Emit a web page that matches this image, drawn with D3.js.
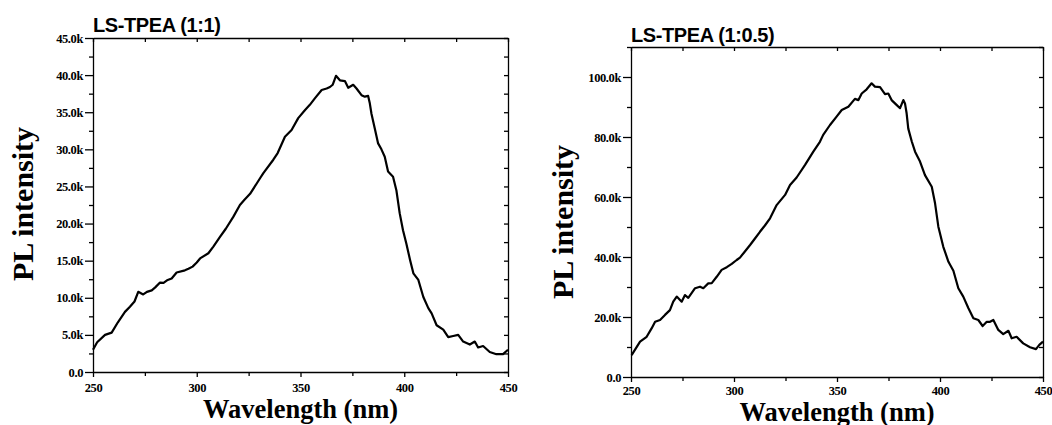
<!DOCTYPE html>
<html lang="en">
<head>
    <meta charset="UTF-8">
    <title>PL spectra LS-TPEA</title>
    <script src="https://d3js.org/d3.v7.min.js"></script>
    <style>
        body { margin: 0; background: #fff; }
        .tick text { font-family: "Liberation Serif", "Times New Roman", serif; font-weight: bold; font-size: 12.5px; letter-spacing: -0.4px; fill: #000; }
        .domain, .tick line { stroke: #000; stroke-width: 1.3px; }
        .line { fill: none; stroke: #000; stroke-width: 2.2px; stroke-linejoin: round; }
        .title { font-family: "Liberation Sans", Arial, sans-serif; font-weight: bold; font-size: 20px; letter-spacing: -0.4px; }
        .axis-label { font-family: "Liberation Serif", "Times New Roman", serif; font-weight: bold; }
    </style>
</head>
<body>
<svg id="chart" width="1052" height="425"></svg>
<script>
// LS-TPEA (1:1)
const wl11 = [250, 252, 255.8, 259, 262, 265.4, 267.8, 270, 271.8, 274.2, 276, 278.3, 280, 282.3, 284, 286, 287.9, 290.3, 294.3, 296, 298, 300, 301.6, 305.6, 308, 311.2, 314, 317.6, 320.8, 323, 325.7, 330.5, 332.1, 336.9, 339, 342.5, 345.7, 348.9, 352.2, 354.5, 357, 360.2, 362.6, 364.2, 365.5, 367.1, 369, 371.4, 373, 375.4, 377, 379.4, 381, 382.6, 383.4, 384.2, 385.8, 387.4, 389, 390.6, 392.2, 394.6, 396.2, 397.8, 399.4, 401, 402.8, 404.4, 406.8, 409.2, 411.6, 413.2, 415.6, 418.8, 421.2, 423.6, 426, 428.4, 431.6, 434, 435.6, 438, 441.2, 444.4, 447.6, 450];
const pl11 = [3000, 4000, 5000, 5300, 6700, 8100, 8800, 9500, 10800, 10450, 10800, 11000, 11400, 12050, 12000, 12400, 12600, 13400, 13700, 13900, 14200, 14750, 15300, 16000, 16900, 18200, 19300, 20900, 22500, 23200, 24000, 26100, 26800, 28600, 29500, 31700, 32600, 34200, 35300, 36000, 36900, 38000, 38200, 38400, 38700, 39900, 39300, 39200, 38300, 38700, 38200, 37300, 37100, 37200, 36200, 34800, 32800, 30800, 30000, 29000, 27000, 26300, 24500, 21400, 19100, 17300, 15100, 13300, 12400, 10100, 8600, 7900, 6300, 5700, 4700, 4850, 5000, 4100, 3700, 4100, 3300, 3500, 2700, 2400, 2400, 3000];

// LS-TPEA (1:0.5)
const wl105 = [250.3, 254.4, 257.6, 260, 261.7, 264.1, 266.5, 268.9, 270.5, 272.2, 274.6, 276.2, 277.8, 281.1, 283.5, 285.1, 287.5, 289.2, 291.6, 294, 296.5, 298.9, 301.3, 302.9, 305, 307.8, 310, 312.6, 315, 317.5, 320.7, 324.8, 327.2, 330.4, 334.5, 338.5, 341.7, 343.3, 346.6, 349.8, 352.3, 355.5, 358.7, 360.4, 362, 364.4, 366.8, 368.4, 370.9, 373.3, 374.9, 376.5, 378.9, 380.6, 382.2, 383, 383.8, 384.6, 386.3, 387.9, 390.3, 392.7, 396, 397.6, 399.2, 401.6, 404.1, 406.5, 408.9, 411.3, 413.8, 416.2, 418.6, 420.7, 422.7, 424.3, 425.9, 428.3, 430.7, 433.2, 434.8, 437.2, 440.4, 443.7, 446.6, 448.2, 450];
const pl105 = [7300, 11800, 13400, 16200, 18400, 19000, 20700, 22300, 25100, 26800, 25100, 27300, 26400, 29600, 30100, 29600, 31200, 31300, 33400, 35700, 36600, 37700, 39000, 39800, 41600, 44000, 46000, 48400, 50500, 52900, 57300, 60700, 64000, 66500, 70700, 75100, 78400, 80700, 84000, 86800, 89000, 90100, 92700, 92300, 94500, 95900, 97900, 96800, 96600, 94300, 94500, 92300, 90700, 89600, 92300, 91200, 87900, 82800, 78500, 75100, 71800, 67300, 63400, 57900, 50100, 43400, 38400, 35400, 29600, 26800, 22900, 19600, 19000, 17000, 18400, 18400, 19000, 15700, 14300, 15400, 12900, 13400, 11200, 9900, 9300, 10700, 11800];

const xMajor = [250, 300, 350, 400, 450];
const xMinor = [275, 325, 375, 425];
const xAll = [250, 275, 300, 325, 350, 375, 400, 425, 450];

const yMajor11 = [0, 5000, 10000, 15000, 20000, 25000, 30000, 35000, 40000, 45000];
const yMinor11 = [2500, 7500, 12500, 17500, 22500, 27500, 32500, 37500, 42500];
const yMajor105 = [0, 20000, 40000, 60000, 80000, 100000];
const yMinor105 = [10000, 30000, 50000, 70000, 90000, 110000];

const fmt = v => v === 0 ? "0.0" : (v / 1000).toFixed(1) + "k";

const svg = d3.select("#chart");

function drawPanel(cfg) {
    const x = d3.scaleLinear().domain([250, 450]).range([cfg.left, cfg.left + cfg.width]);
    const y = d3.scaleLinear().domain([0, cfg.yMax]).range([cfg.top + cfg.height, cfg.top]);
    const bottom = cfg.top + cfg.height;
    const right = cfg.left + cfg.width;

    // minor ticks first, majors on top
    svg.append("g").attr("transform", `translate(0,${bottom})`)
        .call(d3.axisBottom(x).tickValues(xMinor).tickSize(4).tickFormat(""))
        .select(".domain").remove();
    svg.append("g").attr("transform", `translate(0,${bottom})`)
        .call(d3.axisBottom(x).tickValues(xMajor).tickSize(5).tickPadding(cfg.xPad).tickFormat(d3.format("d")).tickSizeOuter(0));

    svg.append("g").attr("transform", `translate(${cfg.left},0)`)
        .call(d3.axisLeft(y).tickValues(cfg.yMinor).tickSize(4).tickFormat(""))
        .select(".domain").remove();
    svg.append("g").attr("transform", `translate(${cfg.left},0)`)
        .call(d3.axisLeft(y).tickValues(cfg.yMajor).tickSize(8).tickPadding(2).tickFormat(fmt).tickSizeOuter(0));

    // top and right frame, ticks inward
    svg.append("g").attr("transform", `translate(0,${cfg.top})`)
        .call(d3.axisTop(x).tickValues(xAll).tickSize(-4).tickFormat("").tickSizeOuter(0));
    svg.append("g").attr("transform", `translate(${right},0)`)
        .call(d3.axisRight(y).tickValues(cfg.yMajor.concat(cfg.yMinor)).tickSize(-4).tickFormat("").tickSizeOuter(0));

    const line = d3.line().x((d, i) => x(cfg.wl[i])).y(d => y(d));
    svg.append("path").datum(cfg.pl).attr("class", "line").attr("d", line);

    svg.append("text").attr("class", "title")
        .attr("x", cfg.left).attr("y", cfg.titleY).text(cfg.title);

    svg.append("text").attr("class", "axis-label")
        .attr("font-size", 30)
        .attr("text-anchor", "middle")
        .attr("transform", `translate(${cfg.ylabX},${cfg.ylabY}) rotate(-90)`)
        .text("PL intensity");

    svg.append("text").attr("class", "axis-label")
        .attr("font-size", 26.5)
        .attr("text-anchor", "middle")
        .attr("x", cfg.left + cfg.width / 2).attr("y", cfg.xlabY)
        .text("Wavelength (nm)");
}

drawPanel({ left: 93, top: 38, width: 415, height: 334, yMax: 45000,
    yMajor: yMajor11, yMinor: yMinor11, wl: wl11, pl: pl11, xPad: 6,
    title: "LS-TPEA (1:1)", titleY: 32, ylabX: 33, ylabY: 204, xlabY: 418 });

drawPanel({ left: 631, top: 47, width: 412, height: 330, yMax: 110000,
    yMajor: yMajor105, yMinor: yMinor105, wl: wl105, pl: pl105, xPad: 4,
    title: "LS-TPEA (1:0.5)", titleY: 42, ylabX: 573, ylabY: 222, xlabY: 421 });
</script>
</body>
</html>
